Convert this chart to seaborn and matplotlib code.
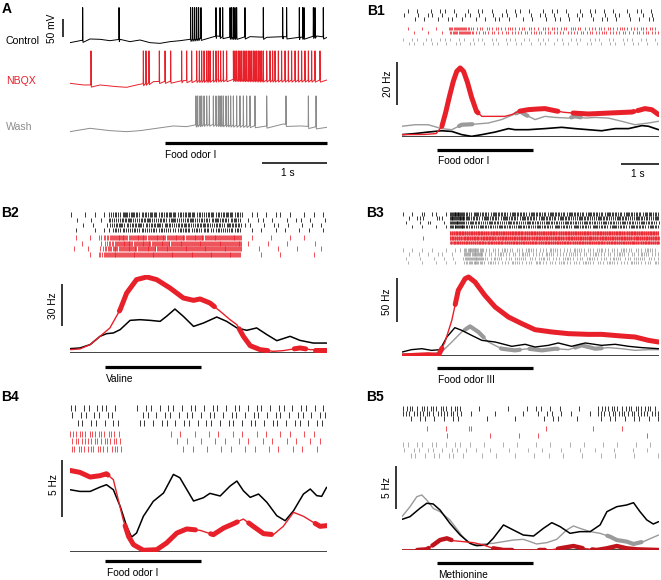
import numpy as np
import matplotlib
matplotlib.use('Agg')
import matplotlib.pyplot as plt
from matplotlib.transforms import Affine2D, blended_transform_factory
import seaborn as sns

sns.set_style('white')
plt.rcParams['font.family'] = ['Liberation Sans', 'DejaVu Sans']
plt.rcParams['text.color'] = 'black'

W, H = 661, 580
RED = '#e8202a'
DARKRED = '#c0141c'
GRAY = '#9a9a9a'
BLACK = '#000000'

# ---------------- panel A: membrane potential (s, mV) ----------------
a_odor = [1.46, 3.95]
a_tmax = 3.954
spike_peak = 30.0

ctrl_base_t = [0, 0.154, 0.308, 0.462, 0.615, 0.769, 0.923, 1.077, 1.231, 1.385, 1.538,
               1.692, 1.846, 2.0, 2.256, 2.513, 2.769, 3.026, 3.282, 3.538, 3.795, 3.954]
ctrl_base_v = [-67.4, -61.9, -57.2, -58.1, -61.9, -58.1, -64.6, -60.0, -67.4, -69.3, -64.6,
               -61.9, -58.1, -55.4, -48.9, -52.6, -50.7, -52.6, -50.7, -52.6, -48.9, -52.6]
ctrl_spikes = [0.195, 0.754, 1.856, 1.887, 1.918, 1.949, 1.979, 2.015, 2.246, 2.308, 2.349,
               2.462, 2.487, 2.513, 2.538, 2.564, 2.692, 2.974, 3.272, 3.333, 3.528, 3.579,
               3.600, 3.744, 3.769, 3.897]

nbqx_base_t = [0, 0.205, 0.462, 0.718, 0.872, 1.026, 1.282, 1.744, 2.256, 2.513, 3.026, 3.954]
nbqx_base_v = [-60, -64.6, -64.6, -69.3, -71.1, -64.6, -55.4, -52.6, -50.7, -48.9, -50.7, -50.7]
nbqx_spikes = [0.323, 1.128, 1.169, 1.215, 1.374, 1.462, 1.549, 1.718, 1.795, 1.872, 1.949,
               1.990, 2.026, 2.062, 2.103, 2.128, 2.154, 2.205, 2.246, 2.282, 2.318, 2.359,
               2.410, 2.513, 2.538, 2.564, 2.590, 2.615, 2.641, 2.667, 2.692, 2.718, 2.744,
               2.769, 2.795, 2.821, 2.846, 2.872, 2.897, 2.923, 2.949, 2.974, 3.026, 3.077,
               3.118, 3.154, 3.205, 3.256, 3.308, 3.359, 3.410, 3.462, 3.513, 3.564, 3.615,
               3.667, 3.718, 3.769, 3.846]

wash_base_t = [0, 0.308, 0.615, 0.872, 1.077, 1.333, 1.590, 1.795, 1.923, 2.103, 2.513,
               3.026, 3.282, 3.538, 3.954]
wash_base_v = [-69.3, -60, -66.5, -69.3, -66.5, -60, -53.5, -55.4, -50.7, -48.0, -50.7,
               -53.5, -48.0, -53.5, -57.2]
wash_spikes = [1.938, 1.964, 2.0, 2.026, 2.062, 2.103, 2.144, 2.205, 2.246, 2.282, 2.308,
               2.333, 2.359, 2.4, 2.436, 2.472, 2.513, 2.564, 2.615, 2.667, 2.718, 2.769,
               2.846, 3.026, 3.323, 3.667, 3.785]

# ---------------- panels B: rasters (spikes per 0.125 s bin) and rates (Hz) ----------------
b_odor = [0.93, 3.45]
b_tmax = 6.76

b1_black_rows = ["0101001011010010110100101101001011010010110101001011010",
                 "1001011010010110100101101001011010010110100101101001010",
                 "0010100101101001010110100101001011010100101101001010110"]
b1_red_rows = ["0100100100" "44543" "1212121221212112121212211212121221212121",
               "0010010010" "34454" "2121211212121221212112121212212121121212"]
b1_gray_rows = ["1011011011101101110110111011011101101110111011011101101",
                "0110101101011011010110101101011010110101101011010110101"]
b1_t_red = [0.0, 0.6, 0.9, 1.05, 1.15, 1.25, 1.35, 1.44, 1.53, 1.62, 1.72, 1.83, 1.96, 2.10,
            2.45, 2.71, 2.9, 3.06, 3.32, 3.55, 3.76, 4.03, 4.25, 4.46, 4.90, 5.52, 6.04, 6.25,
            6.39, 6.57, 6.75]
b1_red = [1.1, 1.2, 1.6, 5.0, 11.5, 19.0, 25.9, 30.5, 32.1, 30.5, 25.5, 18.5, 11.9, 9.6, 9.6,
          9.6, 10.5, 11.9, 12.7, 13.0, 13.2, 12.2, 11.5, 11.2, 10.7, 11.2, 11.6, 12.5, 13.2,
          12.7, 10.4]
b1_red_sig = [(1.05, 2.0), (3.1, 4.1), (4.5, 6.1), (6.2, 6.75)]
b1_t_gray = [0.0, 0.34, 0.69, 1.04, 1.31, 1.57, 1.92, 2.27, 2.62, 2.97, 3.11, 3.24, 3.50, 3.76,
             4.03, 4.38, 4.55, 4.82, 5.08, 5.43, 5.78, 6.13, 6.48, 6.75]
b1_gray = [5.0, 5.7, 5.7, 3.9, 3.4, 5.7, 6.0, 6.5, 8.1, 10.7, 11.9, 10.4, 8.1, 9.6, 9.1, 8.8,
           9.6, 8.8, 9.1, 8.8, 7.3, 5.7, 6.5, 7.3]
b1_gray_sig = [(1.5, 1.85), (3.0, 3.3), (4.45, 4.7)]
b1_t_black = [0.0, 0.34, 0.69, 1.04, 1.31, 1.57, 1.83, 2.10, 2.45, 2.80, 2.97, 3.32, 3.76,
              4.20, 4.55, 4.90, 5.25, 5.61, 5.96, 6.31, 6.48, 6.75]
b1_black = [1.1, 1.6, 2.3, 2.9, 2.6, 1.1, 0.3, 1.1, 2.3, 3.9, 3.4, 3.4, 3.9, 4.5, 3.9, 3.4,
            2.9, 3.9, 3.9, 5.3, 5.0, 3.4]

b2_black_rows = ["10010101" "2324342334233423342324233423" "101101011010010101",
                 "01001010" "3233423342332432342332433242" "010110100101101001",
                 "00101001" "2342334233424233423342332433" "110010110100101010",
                 "01000101" "1323232323232223323232232323" "001010010100101001"]
b2_red_rows = ["010010" "234" "565456545654565456545654565" "001000100010010000",
               "001000" "123" "456545654565456545654565456" "010001000100000100",
               "100100" "234" "545654565456545654565456545" "000100010001000010",
               "000010" "345" "654565456545654565456545654" "000010001000000100"]
b2_t_red = [0.0, 0.26, 0.53, 0.79, 1.05, 1.32, 1.49, 1.75, 2.02, 2.28, 2.63, 2.98, 3.25, 3.42,
            3.68, 3.95, 4.21, 4.39, 4.56, 4.74, 5.0, 5.35, 5.61, 5.88, 6.05, 6.32, 6.58, 6.75]
b2_red = [2.4, 2.9, 6.0, 11.9, 17.9, 31.0, 42.8, 52.4, 54.3, 52.4, 46.4, 39.3, 37.6, 38.6,
          35.7, 29.8, 23.8, 20.2, 11.9, 5.2, 2.4, 1.2, 1.7, 2.9, 3.6, 2.4, 2.4, 2.4]
b2_red_sig = [(1.3, 3.8), (4.45, 5.2), (5.9, 6.2), (6.45, 6.75)]
b2_t_black = [0.0, 0.26, 0.53, 0.79, 0.96, 1.14, 1.32, 1.58, 1.84, 2.11, 2.37, 2.54, 2.76,
              2.98, 3.25, 3.51, 3.86, 4.12, 4.39, 4.65, 4.91, 5.18, 5.44, 5.79, 6.05, 6.40, 6.75]
b2_black = [3.1, 3.6, 6.0, 11.9, 13.8, 14.3, 16.7, 23.3, 23.8, 23.3, 22.6, 26.2, 31.4, 26.2,
            19.0, 21.4, 25.7, 22.6, 17.9, 16.2, 17.9, 13.1, 8.8, 11.9, 9.0, 7.1, 7.1]

b3_black_rows = ["1010201101" "565" "32433243324332433243324332433243324332433",
                 "0102100210" "656" "43324332433243324332433243324332433243324",
                 "1001020010" "565" "24332433243324332433243324332433243324332",
                 "0010100101" "456" "33243324332433243324332433243324332433243"]
b3_red_rows = ["0000000000" "78878787787878877878787787878778787877878787",
               "0000100000" "87787878877878787787878778787877878787787878",
               "0000000000" "78787787878778787877878787787878778787877878"]
b3_gray_rows = ["1010101001011" "4654" "2121321213212132121321213212132121321",
                "0101010110100" "5465" "1213212132121321213212132121321213212",
                "1001001010101" "4565" "2132121321213212132121321213212132121",
                "0100100101010" "3454" "1321213212132121321213212132121321213"]
b3_t_red = [0.0, 0.34, 0.69, 0.96, 1.13, 1.31, 1.48, 1.66, 1.75, 1.92, 2.18, 2.45, 2.80, 3.15,
            3.50, 3.94, 4.38, 4.90, 5.25, 5.78, 6.13, 6.48, 6.75]
b3_red = [0.0, 0.8, 1.5, 0.8, 15.9, 40.5, 74.6, 87.9, 89.8, 84.1, 68.9, 55.7, 44.3, 36.8, 29.9,
          27.3, 25.4, 24.6, 24.6, 22.7, 21.6, 17.8, 15.9]
b3_red_sig = [(0.0, 1.05), (1.4, 6.75)]
b3_t_black = [0.0, 0.25, 0.52, 0.78, 1.0, 1.18, 1.39, 1.57, 1.83, 2.10, 2.45, 2.89, 3.24, 3.50,
              3.85, 4.11, 4.46, 4.82, 5.25, 5.61, 5.96, 6.31, 6.75]
b3_black = [4.5, 7.2, 8.3, 6.4, 7.2, 21.6, 32.2, 29.2, 23.5, 17.8, 15.9, 11.0, 13.3, 10.2,
            12.1, 14.8, 11.0, 14.8, 12.1, 13.3, 11.0, 9.5, 8.3]
b3_t_gray = [0.0, 0.69, 1.04, 1.31, 1.57, 1.79, 2.01, 2.27, 2.62, 2.97, 3.32, 3.68, 4.03, 4.38,
             4.73, 5.08, 5.43, 5.78, 6.13, 6.48, 6.75]
b3_gray = [2.7, 1.9, 4.5, 15.9, 27.3, 33.7, 27.3, 15.9, 8.3, 6.4, 8.3, 6.4, 8.3, 7.2, 12.1,
           8.3, 9.5, 8.3, 6.4, 7.2, 7.2]
b3_gray_sig = [(1.65, 2.15), (2.6, 3.1), (3.35, 4.1), (4.55, 5.25)]

b4_black_rows = ["11011011101" "0000" "1011010110101101011010110101101011010110101",
                 "10110110110" "0000" "0110101101011010110101101011010110101101011",
                 "01101101011" "0000" "1101011010110101101011010110101101011010110"]
b4_red_rows = ["21212121211" "0000000000" "10100100101001010010100101001010" "0",
               "12121212121" "0000000000" "01010010010100101001010010100101" "0",
               "21212121121" "0000000000" "00101001001010010100101001010010" "0"]
b4_t_red = [0.0, 0.26, 0.53, 0.79, 0.96, 1.14, 1.27, 1.40, 1.54, 1.67, 1.93, 2.28, 2.54, 2.81,
            3.07, 3.42, 3.77, 4.04, 4.30, 4.56, 4.82, 5.09, 5.35, 5.61, 5.88, 6.14, 6.40, 6.58,
            6.75]
b4_red = [7.15, 6.98, 6.57, 6.69, 6.86, 6.34, 4.58, 2.83, 1.37, 0.64, 0.15, 0.20, 0.79, 1.66,
          2.02, 1.90, 1.52, 2.10, 2.48, 2.89, 2.25, 1.61, 1.52, 2.25, 3.48, 3.13, 2.60, 2.25,
          2.31]
b4_red_sig = [(0.0, 1.0), (1.45, 3.3), (3.7, 4.4), (4.7, 5.3), (6.45, 6.75)]
b4_t_black = [0.0, 0.26, 0.53, 0.79, 0.96, 1.14, 1.32, 1.49, 1.62, 1.75, 1.93, 2.19, 2.46,
              2.72, 2.89, 3.07, 3.25, 3.51, 3.68, 3.95, 4.21, 4.39, 4.56, 4.74, 4.96, 5.18,
              5.44, 5.66, 5.88, 6.14, 6.32, 6.49, 6.62, 6.75]
b4_black = [5.46, 5.31, 5.31, 5.69, 5.90, 5.46, 4.00, 2.25, 1.31, 1.66, 3.13, 4.44, 5.17, 6.80,
            6.51, 5.49, 4.47, 4.76, 5.14, 4.91, 5.78, 6.22, 5.37, 4.79, 5.08, 4.35, 3.18, 2.74,
            3.62, 5.08, 5.52, 4.94, 4.88, 5.67]

b5_black_rows = ["1211212121121" "000100000100010" "110101" "0001000" "1212112121211",
                 "2112121121211" "010000100000100" "101101" "0100010" "2112121212112",
                 "0101101010110" "000010000010000" "010110" "0010000" "1011010110101"]
b5_red_rows = ["000001000100002000000000000000100000000010000010000000",
               "000000000100000000100000100010000000000000000000000100"]
b5_gray_rows = ["11011011010110" "1001000100100010010001001000100100010010",
                "10110110101101" "0100100010001001000100010010001000100100",
                "01101011011010" "0010010001000100100100010001001000100001"]
b5_t_black = [0.0, 0.21, 0.47, 0.65, 0.82, 1.00, 1.26, 1.53, 1.79, 1.96, 2.23, 2.40, 2.67,
              2.93, 3.19, 3.46, 3.72, 3.94, 4.16, 4.42, 4.68, 4.95, 5.21, 5.39, 5.65, 5.91,
              6.09, 6.26, 6.44, 6.61, 6.75]
b5_black = [3.62, 3.94, 4.92, 5.52, 5.44, 4.73, 3.15, 1.77, 0.79, 0.51, 0.59, 1.38, 2.96, 2.36,
            1.77, 1.65, 2.56, 3.23, 2.76, 1.97, 2.17, 2.17, 2.96, 4.53, 5.12, 5.32, 5.59, 4.53,
            3.55, 3.07, 3.35]
b5_t_gray = [0.0, 0.21, 0.39, 0.52, 0.65, 0.82, 1.00, 1.26, 1.53, 1.70, 1.88, 2.14, 2.40, 2.67,
             2.93, 3.19, 3.37, 3.54, 3.81, 4.07, 4.33, 4.51, 4.68, 4.95, 5.21, 5.47, 5.65,
             5.91, 6.09, 6.35, 6.61, 6.75]
b5_gray = [3.94, 5.12, 6.30, 6.50, 5.91, 4.92, 4.53, 3.55, 1.97, 0.99, 0.59, 0.71, 0.79, 0.99,
           1.18, 1.26, 0.99, 0.71, 0.87, 1.26, 2.36, 2.84, 2.56, 2.17, 1.97, 1.58, 1.18, 0.99,
           0.71, 0.99, 1.50, 1.77]
b5_gray_sig = [(5.4, 6.3)]
b5_t_red = [0.0, 0.39, 0.65, 0.82, 1.00, 1.18, 1.35, 1.61, 1.88, 2.14, 2.40, 2.67, 3.90, 4.16,
            4.51, 4.77, 5.12, 5.39, 5.65, 5.91, 6.18, 6.75]
b5_red = [0.0, 0.0, 0.08, 0.59, 1.18, 1.38, 1.10, 0.99, 0.87, 0.59, 0.20, 0.0, 0.0, 0.20, 0.47,
          0.20, 0.0, 0.20, 0.47, 0.20, 0.08, 0.0]
b5_red_sig = [(0.4, 0.7), (0.8, 1.3), (2.4, 2.9), (3.6, 3.75), (4.1, 4.75), (5.0, 6.75)]

# ---------------- drawing helpers ----------------
fig = plt.figure(figsize=(W / 100, H / 100), dpi=100)
pix = Affine2D().scale(1.0 / W, -1.0 / H).translate(0, 1) + fig.transFigure


def add_ax(x0, y0, x1, y1, xlim, ylim):
    ax = fig.add_axes([x0 / W, 1 - y1 / H, (x1 - x0) / W, (y1 - y0) / H])
    ax.set_xlim(*xlim)
    ax.set_ylim(*ylim)
    ax.axis('off')
    return ax


def label(x, y, s, **kw):
    kw.setdefault('fontsize', 7.3)
    kw.setdefault('va', 'center')
    kw.setdefault('color', 'black')
    fig.text(x, y, s, transform=pix, **kw)


def hbar(ax, t0, t1, y_px, lw):
    tr = blended_transform_factory(ax.transData, pix)
    ax.plot([t0, t1], [y_px, y_px], transform=tr, color='k', lw=lw,
            clip_on=False, solid_capstyle='butt')


def vbar(ax, x_px, top, length):
    tr = blended_transform_factory(pix, ax.transData)
    ax.plot([x_px, x_px], [top - length, top], transform=tr, color='k', lw=1.1,
            clip_on=False, solid_capstyle='butt')


def trace(ax, base_t, base_v, spikes, offset, color):
    bt = np.asarray(base_t, float)
    bv = np.asarray(base_v, float)
    s = np.asarray(spikes, float)
    vb = np.interp(s, bt, bv)
    t = np.concatenate([bt, s - 0.003, s, s + 0.005])
    v = np.concatenate([bv, vb, np.full(len(s), spike_peak), vb - 6])
    order = np.argsort(t, kind='stable')
    sns.lineplot(x=t[order], y=v[order] - offset, ax=ax, color=color, linewidth=0.7,
                 sort=False, estimator=None)


def raster(ax, rows, color, y_top, row_h, frac=0.85):
    tr = blended_transform_factory(ax.transData, pix)
    for i, row in enumerate(rows):
        counts = [int(c) for c in row]
        bw = b_tmax / len(counts)
        phase = 0.5 + 0.3 * ((i % 3) - 1)
        xs = []
        for j, n in enumerate(counts):
            for k in range(n):
                xs.append(bw * (j + (k + phase) / n))
        yc = y_top + (i + 0.5) * row_h
        ax.vlines(xs, yc - frac * row_h / 2, yc + frac * row_h / 2, color=color,
                  lw=0.55, transform=tr, clip_on=False)


def rate(ax, t, r, color, lw=1.0, sig=(), lw_sig=3.6, sig_color=None):
    t = np.asarray(t, float)
    r = np.asarray(r, float)
    sns.lineplot(x=t, y=r, ax=ax, color=color, linewidth=lw, sort=False, estimator=None)
    for a, b in sig:
        inner = (t > a) & (t < b)
        tt = np.concatenate([[a], t[inner], [b]])
        rr = np.concatenate([[np.interp(a, t, r)], r[inner], [np.interp(b, t, r)]])
        sns.lineplot(x=tt, y=rr, ax=ax, color=sig_color or color, linewidth=lw_sig,
                     sort=False, estimator=None, solid_capstyle='round')


# ---------------- panel A ----------------
mv_per_px = 50 / 18.0
axA = add_ax(70, 0, 327, 140, (0, a_tmax), (-60 - 100 * mv_per_px, -60 + 40 * mv_per_px))
trace(axA, ctrl_base_t, ctrl_base_v, ctrl_spikes, 0, BLACK)
trace(axA, nbqx_base_t, nbqx_base_v, nbqx_spikes, 43.3 * mv_per_px, RED)
trace(axA, wash_base_t, wash_base_v, wash_spikes, 88.3 * mv_per_px, '#8c8c8c')
vbar(axA, 63, -60 + 21 * mv_per_px, 50)
hbar(axA, a_odor[0], a_odor[1], 143, 2.3)
hbar(axA, a_tmax - 1, a_tmax, 163, 1.1)
label(52, 28, '50 mV', rotation=90, ha='center')
label(6, 41, 'Control', color=BLACK, fontsize=7.6)
label(6, 81, 'NBQX', color=RED, fontsize=7.6)
label(6, 127, 'Wash', color='#8c8c8c', fontsize=7.6)
label(165, 155, 'Food odor I')
label(288, 173, '1 s', ha='center')
label(2, 9, 'A', fontsize=10, fontweight='bold')


# ---------------- panels B ----------------
def b_panel(x0, base, top, ymax):
    ax = add_ax(x0, top, x0 + 257, base, (0, b_tmax), (0, ymax))
    ax.axhline(0, color='#222222', lw=1.2, zorder=0)
    return ax


axB1 = b_panel(402, 137, 60, 35.8)
raster(axB1, b1_black_rows, BLACK, 9, 4.0)
raster(axB1, b1_red_rows, RED, 27, 3.7)
raster(axB1, b1_gray_rows, GRAY, 38, 3.7)
rate(axB1, b1_t_black, b1_black, BLACK, lw=1.2)
rate(axB1, b1_t_gray, b1_gray, GRAY, sig=b1_gray_sig, lw_sig=3.0)
rate(axB1, b1_t_red, b1_red, RED, sig=b1_red_sig)
vbar(axB1, 397, 34.9, 20)
label(388, 84, '20 Hz', rotation=90, ha='center')
hbar(axB1, b_odor[0], b_odor[1], 150, 2.3)
hbar(axB1, b_tmax - 1, b_tmax, 163.5, 1.1)
label(438, 161, 'Food odor I')
label(638, 174, '1 s', ha='center')
label(367, 11, 'B1', fontsize=10, fontweight='bold')

axB2 = b_panel(70, 353, 275, 55.7)
raster(axB2, b2_black_rows, BLACK, 212, 5.2)
raster(axB2, b2_red_rows, RED, 235, 5.5)
rate(axB2, b2_t_black, b2_black, BLACK, lw=1.1)
rate(axB2, b2_t_red, b2_red, RED, sig=b2_red_sig)
vbar(axB2, 62, 49.3, 30)
label(53, 306, '30 Hz', rotation=90, ha='center')
hbar(axB2, b_odor[0], b_odor[1], 367, 2.3)
label(106, 379, 'Valine')
label(1, 213, 'B2', fontsize=10, fontweight='bold')

axB3 = b_panel(402, 356, 274, 93.2)
raster(axB3, b3_black_rows, BLACK, 212, 4.1)
raster(axB3, b3_red_rows, RED, 231, 4.6)
raster(axB3, b3_gray_rows, GRAY, 248, 4.1)
rate(axB3, b3_t_gray, b3_gray, GRAY, sig=b3_gray_sig, lw_sig=3.0)
rate(axB3, b3_t_black, b3_black, BLACK, lw=1.0)
rate(axB3, b3_t_red, b3_red, RED, sig=b3_red_sig)
vbar(axB3, 397, 88.6, 50)
label(387, 302, '50 Hz', rotation=90, ha='center')
hbar(axB3, b_odor[0], b_odor[1], 368, 2.3)
label(438, 380, 'Food odor III')
label(366, 213, 'B3', fontsize=10, fontweight='bold')

axB4 = b_panel(70, 552, 458, 8.24)
raster(axB4, b4_black_rows, BLACK, 404, 7.5)
raster(axB4, b4_red_rows, RED, 430, 7.5)
rate(axB4, b4_t_black, b4_black, BLACK, lw=1.1)
rate(axB4, b4_t_red, b4_red, RED, sig=b4_red_sig)
vbar(axB4, 62, 8.07, 5)
label(54, 485, '5 Hz', rotation=90, ha='center')
hbar(axB4, b_odor[0], b_odor[1], 561, 2.3)
label(107, 573, 'Food odor I')
label(1, 397, 'B4', fontsize=10, fontweight='bold')

axB5 = b_panel(402, 550, 462, 10.4)
raster(axB5, b5_black_rows, BLACK, 406, 5.0)
raster(axB5, b5_red_rows, RED, 425, 7.0, frac=0.6)
raster(axB5, b5_gray_rows, GRAY, 442, 5.3)
rate(axB5, b5_t_gray, b5_gray, GRAY, sig=b5_gray_sig, lw_sig=3.0)
rate(axB5, b5_t_black, b5_black, BLACK, lw=1.1)
rate(axB5, b5_t_red, b5_red, RED, sig=b5_red_sig, lw_sig=3.2, sig_color=DARKRED)
vbar(axB5, 396, 9.9, 5)
label(387, 488, '5 Hz', rotation=90, ha='center')
hbar(axB5, b_odor[0], b_odor[1], 563, 2.3)
label(438, 575, 'Methionine')
label(366, 397, 'B5', fontsize=10, fontweight='bold')

fig.savefig('out.png', dpi=100)
